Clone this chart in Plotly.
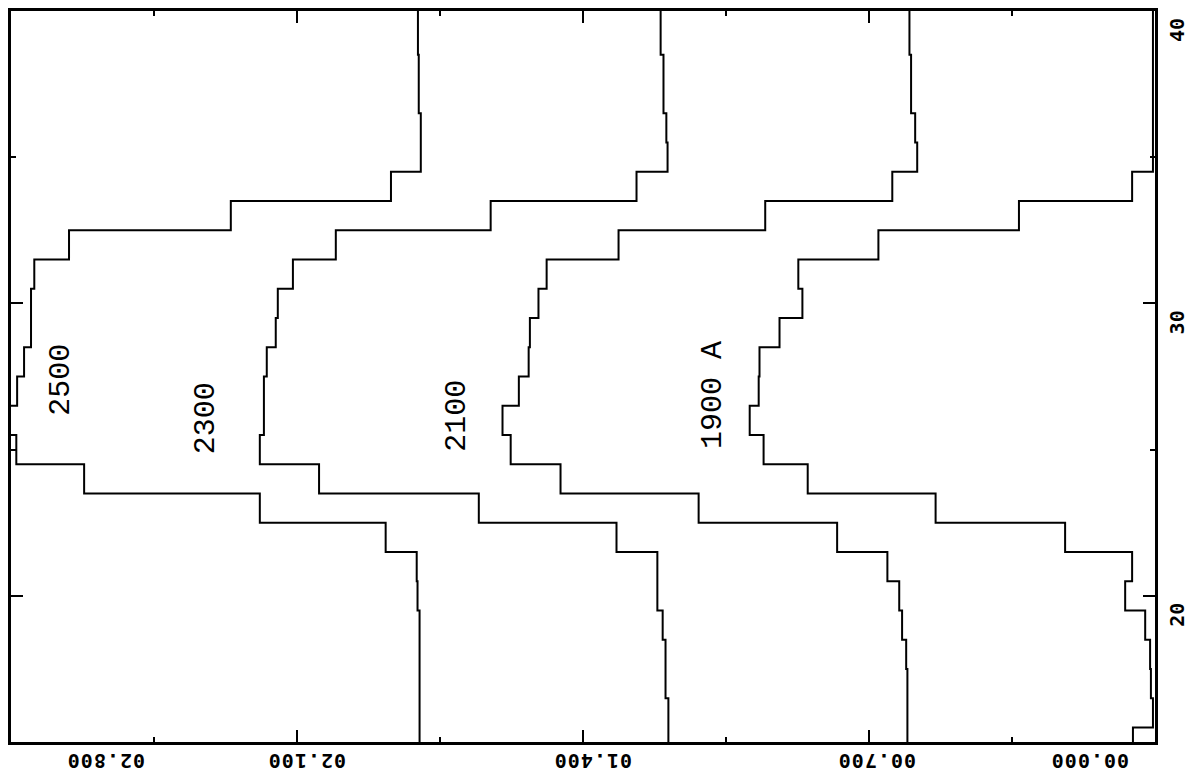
import plotly.graph_objects as go

# bin centres along the wavelength-position axis (steps fall at the half-integers)
position = list(range(15, 41))

# stacked step profiles, one per wavelength
flux_1900 = [0.054, 0.005, 0.010, 0.012, 0.024, 0.073, 0.056, 0.220, 0.537, 0.850,
             0.958, 0.992, 0.970, 0.968, 0.919, 0.863, 0.873, 0.677, 0.333, 0.056,
             0.005, 0.005, 0.005, 0.005, 0.005, 0.005]
flux_2100 = [0.606, 0.606, 0.606, 0.609, 0.619, 0.626, 0.655, 0.778, 1.117, 1.455,
             1.577, 1.597, 1.557, 1.533, 1.530, 1.509, 1.489, 1.313, 0.954, 0.643,
             0.582, 0.587, 0.597, 0.597, 0.601, 0.601]
flux_2300 = [1.191, 1.191, 1.198, 1.198, 1.205, 1.218, 1.218, 1.318, 1.655, 2.046,
             2.191, 2.181, 2.181, 2.174, 2.152, 2.147, 2.110, 2.005, 1.626, 1.269,
             1.193, 1.196, 1.203, 1.203, 1.210, 1.210]
flux_2500 = [1.800, 1.800, 1.800, 1.800, 1.800, 1.805, 1.807, 1.883, 2.191, 2.621,
             2.787, 2.830, 2.785, 2.768, 2.751, 2.751, 2.743, 2.658, 2.262, 1.870,
             1.797, 1.797, 1.802, 1.802, 1.804, 1.804]

series = [flux_1900, flux_2100, flux_2300, flux_2500]
series_labels = ["1900 A", "2100", "2300", "2500"]
label_flux = [1.083, 1.707, 2.323, 2.677]
label_position = [26.85, 26.14, 26.07, 27.40]

flux_ticks = [2.8, 2.1, 1.4, 0.7, 0.0]
flux_tick_text = ["02.800", "02.100", "01.400", "00.700", "00.000"]
position_ticks = [20, 30, 40]
position_tick_text = ["20", "30", "40"]

fig = go.Figure()

for values, name in zip(series, series_labels):
    fig.add_trace(go.Scatter(
        x=values, y=position, mode="lines", name=name,
        line=dict(color="black", width=2, shape="vhv"),
        showlegend=False, hoverinfo="skip",
    ))

# curve labels, written along the position axis
for name, fx, py in zip(series_labels, label_flux, label_position):
    fig.add_annotation(
        x=fx, y=py, xref="x", yref="y", text=name, showarrow=False,
        textangle=-90, font=dict(family="Liberation Mono", size=30, color="black"),
    )

# flux tick labels (end labels pulled inside the frame)
flux_label_shift = [95, 10, 10, 8, -65]
for v, txt, dx in zip(flux_ticks, flux_tick_text, flux_label_shift):
    fig.add_annotation(
        x=v, y=0, xref="x", yref="paper", showarrow=False,
        text='<span style="letter-spacing:1px">' + txt + "</span>",
        textangle=180, xanchor="center", yanchor="middle",
        xshift=dx, yshift=-19,
        font=dict(family="DejaVu Sans Mono", size=20, color="black", weight="bold"),
    )

# position tick labels on the right-hand side
for p, txt in zip(position_ticks, position_tick_text):
    fig.add_annotation(
        x=1, y=p, xref="paper", yref="y", showarrow=False, text=txt,
        textangle=-90, xanchor="center", yanchor="middle",
        xshift=22, yshift=-19,
        font=dict(family="DejaVu Sans Mono", size=20, color="black", weight="bold"),
    )

axis_common = dict(
    showgrid=False, zeroline=False, showline=True, linecolor="black",
    linewidth=3, mirror="allticks", ticks="inside", tickcolor="black",
    tickwidth=2, ticklen=12, showticklabels=False,
)

fig.update_layout(
    width=1196, height=779,
    margin=dict(l=10, r=41, t=8, b=37),
    paper_bgcolor="white", plot_bgcolor="white",
    xaxis=dict(
        range=[2.8, 0.0], tickmode="array", tickvals=[0.7, 1.4, 2.1],
        minor=dict(tickmode="array", tickvals=[0.35, 1.05, 1.75, 2.45],
                   ticks="inside", ticklen=5, tickwidth=2, tickcolor="black"),
        **axis_common,
    ),
    yaxis=dict(
        range=[15, 40], side="right", tickmode="array", tickvals=[20, 30],
        minor=dict(tickmode="array", tickvals=[25, 35],
                   ticks="inside", ticklen=5, tickwidth=2, tickcolor="black"),
        **axis_common,
    ),
)

fig.write_html("out.html")
